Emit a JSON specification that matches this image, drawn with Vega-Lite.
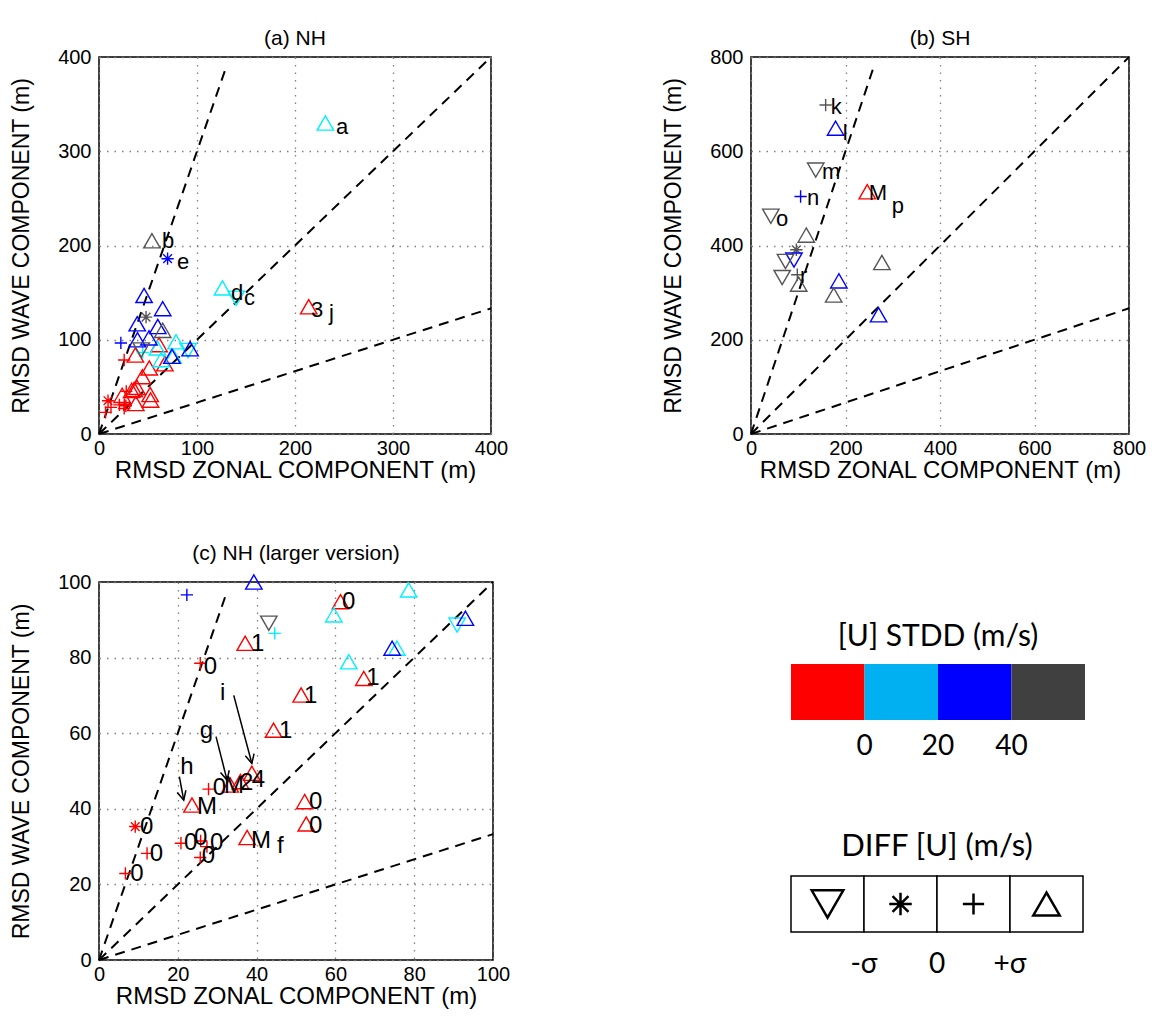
{
  "$schema": "https://vega.github.io/schema/vega-lite/v6.json",
  "padding": {"left": 9, "top": 27, "right": 5, "bottom": 5},
  "config": {
    "font": "Liberation Sans",
    "view": {"stroke": "#000", "strokeWidth": 1.5},
    "axis": {
      "domain": false, "ticks": false, "grid": true,
      "gridColor": "#808080", "gridDash": [1.5, 6], "gridWidth": 1.3,
      "labelFont": "Liberation Sans", "labelFontSize": 20, "labelColor": "#000",
      "labelPadding": 8, "labelFlush": false,
      "titleFont": "Liberation Sans", "titleFontWeight": "normal", "titleColor": "#000"
    },
    "axisX": {"labelPadding": 4, "titlePadding": 0, "titleFontSize": 24},
    "axisY": {"titlePadding": 24, "titleFontSize": 23},
    "title": {"font": "Liberation Sans", "fontSize": 21, "fontWeight": "normal", "color": "#000", "offset": 8}
  },
  "datasets": {
    "nh": [
      {"x": 37.1, "y": 83.8, "s": "<0", "d": "up"},
      {"x": 25.7, "y": 78.5, "s": "<0", "d": "plus"},
      {"x": 44.3, "y": 60.8, "s": "<0", "d": "up"},
      {"x": 38.8, "y": 49.4, "s": "<0", "d": "up"},
      {"x": 35.9, "y": 47.2, "s": "<0", "d": "up"},
      {"x": 33.3, "y": 46.3, "s": "<0", "d": "up"},
      {"x": 27.8, "y": 45.2, "s": "<0", "d": "plus"},
      {"x": 23.6, "y": 41.0, "s": "<0", "d": "up"},
      {"x": 9.2, "y": 35.3, "s": "<0", "d": "star"},
      {"x": 12.2, "y": 28.2, "s": "<0", "d": "plus"},
      {"x": 20.8, "y": 30.9, "s": "<0", "d": "plus"},
      {"x": 25.8, "y": 31.5, "s": "<0", "d": "plus"},
      {"x": 27.4, "y": 30.0, "s": "<0", "d": "plus"},
      {"x": 25.7, "y": 27.1, "s": "<0", "d": "plus"},
      {"x": 37.6, "y": 32.4, "s": "<0", "d": "up"},
      {"x": 6.7, "y": 22.9, "s": "<0", "d": "plus"},
      {"x": 52.2, "y": 41.9, "s": "<0", "d": "up"},
      {"x": 52.6, "y": 36.0, "s": "<0", "d": "up"},
      {"x": 51.3, "y": 70.1, "s": "<0", "d": "up"},
      {"x": 67.2, "y": 74.5, "s": "<0", "d": "up"},
      {"x": 61.3, "y": 94.8, "s": "<0", "d": "up"},
      {"x": 214.0, "y": 135.0, "s": "<0", "d": "up"},
      {"x": 44.6, "y": 86.4, "s": "0-20", "d": "plus"},
      {"x": 59.6, "y": 91.3, "s": "0-20", "d": "up"},
      {"x": 78.6, "y": 97.9, "s": "0-20", "d": "up"},
      {"x": 75.6, "y": 82.5, "s": "0-20", "d": "up"},
      {"x": 63.4, "y": 78.9, "s": "0-20", "d": "up"},
      {"x": 90.9, "y": 88.6, "s": "0-20", "d": "down"},
      {"x": 126.0, "y": 155.0, "s": "0-20", "d": "up"},
      {"x": 140.0, "y": 144.0, "s": "0-20", "d": "down"},
      {"x": 231.0, "y": 330.0, "s": "0-20", "d": "up"},
      {"x": 39.3, "y": 100.0, "s": "20-40", "d": "up"},
      {"x": 22.3, "y": 96.6, "s": "20-40", "d": "plus"},
      {"x": 74.4, "y": 82.5, "s": "20-40", "d": "up"},
      {"x": 93.0, "y": 90.4, "s": "20-40", "d": "up"},
      {"x": 70.0, "y": 186.0, "s": "20-40", "d": "star"},
      {"x": 46.0, "y": 147.0, "s": "20-40", "d": "up"},
      {"x": 65.0, "y": 133.0, "s": "20-40", "d": "up"},
      {"x": 39.0, "y": 117.0, "s": "20-40", "d": "up"},
      {"x": 60.0, "y": 114.0, "s": "20-40", "d": "up"},
      {"x": 51.0, "y": 102.0, "s": "20-40", "d": "up"},
      {"x": 43.1, "y": 89.1, "s": ">40", "d": "down"},
      {"x": 54.0, "y": 205.0, "s": ">40", "d": "up"},
      {"x": 48.0, "y": 124.0, "s": ">40", "d": "star"},
      {"x": 65.0, "y": 110.0, "s": ">40", "d": "up"}
    ],
    "sh": [
      {"x": 158, "y": 698, "s": ">40", "d": "plus"},
      {"x": 179, "y": 649, "s": "20-40", "d": "up"},
      {"x": 137, "y": 560, "s": ">40", "d": "down"},
      {"x": 105, "y": 504, "s": "20-40", "d": "plus"},
      {"x": 246, "y": 514, "s": "<0", "d": "up"},
      {"x": 42, "y": 462, "s": ">40", "d": "down"},
      {"x": 117, "y": 422, "s": ">40", "d": "up"},
      {"x": 96, "y": 391, "s": ">40", "d": "star"},
      {"x": 91, "y": 369, "s": "20-40", "d": "down"},
      {"x": 73, "y": 366, "s": ">40", "d": "down"},
      {"x": 66, "y": 332, "s": ">40", "d": "down"},
      {"x": 98, "y": 338, "s": ">40", "d": "plus"},
      {"x": 101, "y": 318, "s": ">40", "d": "up"},
      {"x": 186, "y": 325, "s": "20-40", "d": "up"},
      {"x": 175, "y": 295, "s": ">40", "d": "up"},
      {"x": 277, "y": 364, "s": ">40", "d": "up"},
      {"x": 270, "y": 253, "s": "20-40", "d": "up"}
    ],
    "labA": [
      {"x": 241.8, "y": 325.7, "t": "a"},
      {"x": 64.3, "y": 204.8, "t": "b"},
      {"x": 79.6, "y": 182.5, "t": "e"},
      {"x": 134.7, "y": 149.6, "t": "d"},
      {"x": 148.0, "y": 144.3, "t": "c"},
      {"x": 216.3, "y": 131.6, "t": "3"},
      {"x": 234.7, "y": 128.4, "t": "j"}
    ],
    "labB": [
      {"x": 168.9, "y": 694.3, "t": "k"},
      {"x": 194.3, "y": 639.0, "t": "l"},
      {"x": 150.0, "y": 556.0, "t": "m"},
      {"x": 118.3, "y": 501.0, "t": "n"},
      {"x": 249.2, "y": 511.7, "t": "M"},
      {"x": 297.8, "y": 484.0, "t": "p"},
      {"x": 52.8, "y": 456.5, "t": "o"},
      {"x": 103.5, "y": 335.5, "t": "r"}
    ],
    "labC": [
      {"x": 38.6, "y": 83.6, "t": "1"},
      {"x": 26.6, "y": 77.6, "t": "0"},
      {"x": 45.7, "y": 60.6, "t": "1"},
      {"x": 61.7, "y": 94.6, "t": "0"},
      {"x": 67.8, "y": 74.6, "t": "1"},
      {"x": 52.0, "y": 69.8, "t": "1"},
      {"x": 28.9, "y": 45.5, "t": "0"},
      {"x": 31.7, "y": 45.9, "t": "M"},
      {"x": 35.8, "y": 46.8, "t": "2"},
      {"x": 38.8, "y": 47.6, "t": "4"},
      {"x": 24.9, "y": 40.5, "t": "M"},
      {"x": 10.4, "y": 35.2, "t": "0"},
      {"x": 12.9, "y": 28.0, "t": "0"},
      {"x": 21.6, "y": 31.0, "t": "0"},
      {"x": 24.1, "y": 32.3, "t": "0"},
      {"x": 28.2, "y": 31.0, "t": "0"},
      {"x": 26.1, "y": 27.5, "t": "0"},
      {"x": 38.6, "y": 31.5, "t": "M"},
      {"x": 45.2, "y": 30.2, "t": "f"},
      {"x": 7.9, "y": 22.8, "t": "0"},
      {"x": 53.3, "y": 41.8, "t": "0"},
      {"x": 53.3, "y": 35.4, "t": "0"},
      {"x": 30.7, "y": 70.6, "t": "i"},
      {"x": 25.6, "y": 60.6, "t": "g"},
      {"x": 20.6, "y": 51.0, "t": "h"}
    ],
    "arrC": [
      {"x": 34.2, "y": 70.0, "x2": 38.8, "y2": 52.0},
      {"x": 29.7, "y": 59.1, "x2": 32.5, "y2": 47.6},
      {"x": 20.4, "y": 48.5, "x2": 21.5, "y2": 42.3}
    ],
    "linA": [
      {"x": 0, "y": 0, "x2": 130, "y2": 390},
      {"x": 0, "y": 0, "x2": 400, "y2": 400},
      {"x": 0, "y": 0, "x2": 400, "y2": 133.3}
    ],
    "linB": [
      {"x": 0, "y": 0, "x2": 260, "y2": 780},
      {"x": 0, "y": 0, "x2": 800, "y2": 800},
      {"x": 0, "y": 0, "x2": 800, "y2": 266.7}
    ],
    "linC": [
      {"x": 0, "y": 0, "x2": 32.5, "y2": 97.5},
      {"x": 0, "y": 0, "x2": 100, "y2": 100},
      {"x": 0, "y": 0, "x2": 100, "y2": 33.3}
    ],
    "stddKey": [{"s": "<0"}, {"s": "0-20"}, {"s": "20-40"}, {"s": ">40"}],
    "diffKey": [{"d": "down"}, {"d": "star"}, {"d": "plus"}, {"d": "up"}]
  },
  "bounds": "flush",
  "spacing": 652,
  "hconcat": [
    {
      "bounds": "flush",
      "spacing": 148,
      "vconcat": [
        {
          "title": {"text": "(a) NH", "offset": -2},
          "width": 392,
          "height": 377,
          "encoding": {
            "x": {"field": "x", "type": "quantitative", "title": "RMSD ZONAL COMPONENT (m)",
                  "scale": {"domain": [0, 400], "nice": false}, "axis": {"values": [0, 100, 200, 300, 400]}},
            "y": {"field": "y", "type": "quantitative", "title": "RMSD WAVE COMPONENT (m)",
                  "scale": {"domain": [0, 400], "nice": false}, "axis": {"values": [0, 100, 200, 300, 400]}}
          },
          "layer": [
            {"data": {"name": "linA"}, "mark": {"type": "rule", "color": "#000", "strokeWidth": 2, "strokeDash": [10, 7]},
             "encoding": {"x2": {"field": "x2"}, "y2": {"field": "y2"}}},
            {"data": {"name": "nh"}, "mark": {"type": "point", "filled": false, "size": 270, "strokeWidth": 1.4, "opacity": 1},
             "encoding": {
               "shape": {"field": "d", "type": "nominal", "legend": null,
                         "scale": {"domain": ["down", "star", "plus", "up"], "range": ["triangle-down", "M-0.75,0L0.75,0M0,-0.75L0,0.75M-0.53,-0.53L0.53,0.53M-0.53,0.53L0.53,-0.53", "M-0.75,0L0.75,0M0,-0.75L0,0.75", "triangle-up"]}},
               "color": {"field": "s", "type": "nominal", "legend": null,
                         "scale": {"domain": ["<0", "0-20", "20-40", ">40"], "range": ["#ff0000", "#00f0ff", "#0000ff", "#555555"]}}
             }},
            {"data": {"name": "labA"}, "mark": {"type": "text", "align": "left", "baseline": "middle", "fontSize": 22, "color": "#000"},
             "encoding": {"text": {"field": "t"}}}
          ]
        },
        {
          "title": "(c) NH (larger version)",
          "width": 394,
          "height": 378,
          "encoding": {
            "x": {"field": "x", "type": "quantitative", "title": "RMSD ZONAL COMPONENT (m)",
                  "scale": {"domain": [0, 100], "nice": false}, "axis": {"values": [0, 20, 40, 60, 80, 100]}},
            "y": {"field": "y", "type": "quantitative", "title": "RMSD WAVE COMPONENT (m)",
                  "scale": {"domain": [0, 100], "nice": false}, "axis": {"values": [0, 20, 40, 60, 80, 100]}}
          },
          "layer": [
            {"data": {"name": "linC"}, "mark": {"type": "rule", "color": "#000", "strokeWidth": 2, "strokeDash": [10, 7]},
             "encoding": {"x2": {"field": "x2"}, "y2": {"field": "y2"}}},
            {"data": {"name": "nh"}, "transform": [{"filter": "datum.x <= 100 && datum.y <= 100.5"}],
             "mark": {"type": "point", "filled": false, "size": 270, "strokeWidth": 1.4, "opacity": 1},
             "encoding": {
               "shape": {"field": "d", "type": "nominal", "legend": null,
                         "scale": {"domain": ["down", "star", "plus", "up"], "range": ["triangle-down", "M-0.75,0L0.75,0M0,-0.75L0,0.75M-0.53,-0.53L0.53,0.53M-0.53,0.53L0.53,-0.53", "M-0.75,0L0.75,0M0,-0.75L0,0.75", "triangle-up"]}},
               "color": {"field": "s", "type": "nominal", "legend": null,
                         "scale": {"domain": ["<0", "0-20", "20-40", ">40"], "range": ["#ff0000", "#00f0ff", "#0000ff", "#555555"]}}
             }},
            {"data": {"name": "arrC"}, "mark": {"type": "rule", "color": "#000", "strokeWidth": 1.5},
             "encoding": {"x2": {"field": "x2"}, "y2": {"field": "y2"}}},
            {"data": {"name": "arrC"}, "mark": {"type": "point", "shape": "M-0.5,-1L0,0L0.5,-1", "filled": false, "size": 324, "strokeWidth": 1.5, "color": "#000", "opacity": 1, "angle": -14},
             "encoding": {"x": {"field": "x2", "type": "quantitative"}, "y": {"field": "y2", "type": "quantitative"}}},
            {"data": {"name": "labC"}, "mark": {"type": "text", "align": "left", "baseline": "middle", "fontSize": 24, "color": "#000"},
             "encoding": {"text": {"field": "t"}}}
          ]
        }
      ]
    },
    {
      "bounds": "flush",
      "spacing": 230,
      "vconcat": [
        {
          "title": {"text": "(b) SH", "offset": -2},
          "width": 378,
          "height": 377,
          "encoding": {
            "x": {"field": "x", "type": "quantitative", "title": "RMSD ZONAL COMPONENT (m)",
                  "scale": {"domain": [0, 800], "nice": false}, "axis": {"values": [0, 200, 400, 600, 800]}},
            "y": {"field": "y", "type": "quantitative", "title": "RMSD WAVE COMPONENT (m)",
                  "scale": {"domain": [0, 800], "nice": false}, "axis": {"values": [0, 200, 400, 600, 800]}}
          },
          "layer": [
            {"data": {"name": "linB"}, "mark": {"type": "rule", "color": "#000", "strokeWidth": 2, "strokeDash": [10, 7]},
             "encoding": {"x2": {"field": "x2"}, "y2": {"field": "y2"}}},
            {"data": {"name": "sh"}, "mark": {"type": "point", "filled": false, "size": 270, "strokeWidth": 1.4, "opacity": 1},
             "encoding": {
               "shape": {"field": "d", "type": "nominal", "legend": null,
                         "scale": {"domain": ["down", "star", "plus", "up"], "range": ["triangle-down", "M-0.75,0L0.75,0M0,-0.75L0,0.75M-0.53,-0.53L0.53,0.53M-0.53,0.53L0.53,-0.53", "M-0.75,0L0.75,0M0,-0.75L0,0.75", "triangle-up"]}},
               "color": {"field": "s", "type": "nominal", "legend": null,
                         "scale": {"domain": ["<0", "0-20", "20-40", ">40"], "range": ["#ff0000", "#00f0ff", "#0000ff", "#555555"]}}
             }},
            {"data": {"name": "labB"}, "mark": {"type": "text", "align": "left", "baseline": "middle", "fontSize": 22, "color": "#000"},
             "encoding": {"text": {"field": "t"}}}
          ]
        },
        {
          "bounds": "flush",
          "spacing": 39,
          "hconcat": [
            {
              "width": 1,
              "height": 1,
              "view": {"stroke": null},
              "data": {"values": []},
              "mark": "point"
            },
            {
              "bounds": "flush",
              "spacing": 156,
              "vconcat": [
                {
                  "title": {"text": "[U] STDD (m/s)", "font": "Lato", "fontSize": 30, "offset": 12},
                  "width": 294,
                  "height": 56,
                  "view": {"stroke": null},
                  "data": {"name": "stddKey"},
                  "mark": {"type": "rect"},
                  "encoding": {
                    "x": {"field": "s", "type": "nominal", "sort": ["<0", "0-20", "20-40", ">40"],
                          "scale": {"paddingInner": 0, "paddingOuter": 0},
                          "axis": {"title": null, "grid": false, "labelAngle": 0, "labelOffset": 36.75,
                                   "labelFont": "Lato", "labelFontSize": 28, "labelPadding": 12,
                                   "labelExpr": "datum.value == '<0' ? '0' : datum.value == '0-20' ? '20' : datum.value == '20-40' ? '40' : ''"}},
                    "fill": {"field": "s", "type": "nominal", "legend": null,
                             "scale": {"domain": ["<0", "0-20", "20-40", ">40"], "range": ["#ff0000", "#00b0f0", "#0000ff", "#404040"]}}
                  }
                },
                {
                  "title": {"text": "DIFF [U] (m/s)", "font": "Lato", "fontSize": 31, "offset": 12},
                  "width": 292,
                  "height": 56,
                  "view": {"stroke": null},
                  "data": {"name": "diffKey"},
                  "encoding": {
                    "x": {"field": "d", "type": "nominal", "sort": ["down", "star", "plus", "up"],
                          "scale": {"paddingInner": 0, "paddingOuter": 0},
                          "axis": {"title": null, "grid": false, "labelAngle": 0, "labelOffset": 36.5,
                                   "labelFont": "Lato", "labelFontSize": 28, "labelPadding": 18,
                                   "labelExpr": "datum.value == 'down' ? '-σ' : datum.value == 'star' ? '0' : datum.value == 'plus' ? '+σ' : ''"}}
                  },
                  "layer": [
                    {"mark": {"type": "rect", "fill": "#fff", "stroke": "#000", "strokeWidth": 1.5}},
                    {"mark": {"type": "point", "filled": false, "strokeWidth": 2.5, "color": "#000", "opacity": 1},
                     "encoding": {
                       "shape": {"field": "d", "type": "nominal", "legend": null,
                                 "scale": {"domain": ["down", "star", "plus", "up"], "range": ["triangle-down", "M-0.75,0L0.75,0M0,-0.75L0,0.75M-0.53,-0.53L0.53,0.53M-0.53,0.53L0.53,-0.53", "M-0.75,0L0.75,0M0,-0.75L0,0.75", "triangle-up"]}},
                       "size": {"field": "d", "type": "ordinal", "legend": null,
                                "scale": {"domain": ["down", "star", "plus", "up"], "range": [1000, 700, 1500, 1000]}}
                     }}
                  ]
                }
              ]
            }
          ]
        }
      ]
    }
  ]
}
